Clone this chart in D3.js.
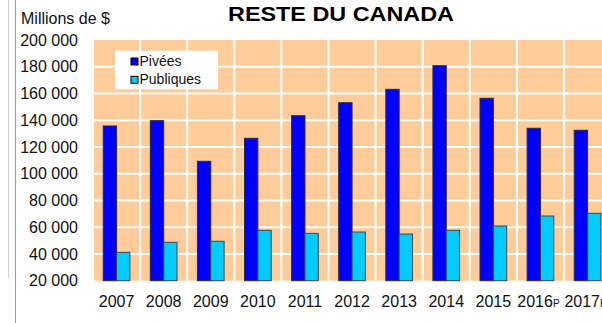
<!DOCTYPE html>
<html>
<head>
<meta charset="utf-8">
<script src="https://cdn.jsdelivr.net/npm/d3@7"></script>
<style>
  html, body { margin: 0; padding: 0; background: #fff; }
  svg { display: block; font-family: "Liberation Sans", Arial, sans-serif; }
</style>
</head>
<body>
<svg id="chart" width="602" height="323"></svg>
<script>
// Investissements non résidentiels, reste du Canada (millions de $)
const years = ["2007", "2008", "2009", "2010", "2011", "2012", "2013", "2014", "2015", "2016", "2017"];
const yearSuffix = ["", "", "", "", "", "", "", "", "", "P", "P"];
const privees = [135700, 139700, 109300, 126500, 143400, 153100, 163100, 180800, 156400, 134000, 132500];
const publiques = [41200, 48700, 49500, 57700, 55400, 56400, 54900, 57700, 60900, 68400, 70400];
const yTicks = [20000, 40000, 60000, 80000, 100000, 120000, 140000, 160000, 180000, 200000];
const seriesNames = ["Pivées", "Publiques"];
const seriesColors = ["#0000FF", "#00CCFF"];

const svg = d3.select("#chart");

// Thin frame lines on the left edge
svg.append("line").attr("x1", 8.5).attr("x2", 8.5).attr("y1", 0).attr("y2", 278)
  .attr("stroke", "#cfcfcf").attr("stroke-width", 1);
svg.append("line").attr("x1", 15.5).attr("x2", 15.5).attr("y1", 0).attr("y2", 323)
  .attr("stroke", "#9a9a9a").attr("stroke-width", 1);

const x = d3.scaleBand().domain(years).range([93, 93 + 47.1 * years.length]).padding(0);
const y = d3.scaleLinear().domain([20000, 200000]).range([280.7, 40]);

// Plot background
svg.append("rect")
  .attr("x", 94).attr("y", y(200000))
  .attr("width", 602 - 94).attr("height", y(20000) - y(200000))
  .attr("fill", "#FFCC99");

// White grid: horizontal at each tick, vertical between categories
svg.append("g").selectAll("line").data(yTicks.slice(1, -1)).join("line")
  .attr("x1", 94).attr("x2", 602)
  .attr("y1", d => y(d)).attr("y2", d => y(d))
  .attr("stroke", "#fff").attr("stroke-width", 2);
svg.append("g").selectAll("line").data(years.slice(1)).join("line")
  .attr("x1", d => x(d)).attr("x2", d => x(d))
  .attr("y1", y(200000)).attr("y2", y(20000))
  .attr("stroke", "#fff").attr("stroke-width", 2);

// Bars
const bw = x.bandwidth() * 0.283;
const bars = svg.append("g");
bars.selectAll("rect.priv").data(years).join("rect")
  .attr("class", "priv")
  .attr("x", d => x(d) + x.bandwidth() / 2 - bw)
  .attr("y", (d, i) => y(privees[i]))
  .attr("width", bw)
  .attr("height", (d, i) => y(20000) - y(privees[i]))
  .attr("fill", seriesColors[0]).attr("stroke", "#2a2a40").attr("stroke-width", 1);
bars.selectAll("rect.pub").data(years).join("rect")
  .attr("class", "pub")
  .attr("x", d => x(d) + x.bandwidth() / 2)
  .attr("y", (d, i) => y(publiques[i]))
  .attr("width", bw)
  .attr("height", (d, i) => y(20000) - y(publiques[i]))
  .attr("fill", seriesColors[1]).attr("stroke", "#3a4448").attr("stroke-width", 1);

// Y axis labels (no axis line)
const yAxis = svg.append("g").attr("transform", "translate(78,0)")
  .call(d3.axisLeft(y).tickValues(yTicks).tickSize(0).tickPadding(0)
    .tickFormat(d => d3.format(",")(d).replace(/,/g, " ")));
yAxis.select(".domain").remove();
yAxis.selectAll("text").attr("font-size", 16).attr("fill", "#111")
  .attr("font-family", "'Liberation Sans', Arial, sans-serif");

// X axis labels
const xAxis = svg.append("g").attr("transform", `translate(0,${y(20000)})`)
  .call(d3.axisBottom(x).tickSize(0).tickPadding(0).tickFormat(""));
xAxis.select(".domain").remove();
xAxis.selectAll(".tick").each(function(d, i) {
  const t = d3.select(this).append("text")
    .attr("y", 26).attr("fill", "#111").attr("font-size", 16)
    .attr("text-anchor", "middle")
    .attr("font-family", "'Liberation Sans', Arial, sans-serif");
  t.append("tspan").text(d);
  if (yearSuffix[i]) t.append("tspan").attr("font-size", 10).text(yearSuffix[i]);
  if (yearSuffix[i]) t.attr("x", -2);
});

// Unit label and title
svg.append("text").attr("x", 21).attr("y", 24).attr("font-size", 16).attr("fill", "#111")
  .text("Millions de $");
svg.append("text").attr("x", 228).attr("y", 20.7).attr("font-size", 21)
  .attr("font-weight", "bold").attr("fill", "#000")
  .attr("textLength", 226).attr("lengthAdjust", "spacingAndGlyphs")
  .text("RESTE DU CANADA");

// Legend
const legend = svg.append("g");
legend.append("rect").attr("x", 115).attr("y", 50.7).attr("width", 103).attr("height", 38.6)
  .attr("fill", "#fff");
seriesNames.forEach((name, i) => {
  const yy = 58 + i * 18.3;
  legend.append("rect").attr("x", 131).attr("y", yy).attr("width", 7).attr("height", 7)
    .attr("fill", seriesColors[i]).attr("stroke", "#000").attr("stroke-width", 1);
  legend.append("text").attr("x", 139.5).attr("y", yy + 7.8).attr("font-size", 14)
    .attr("fill", "#111").text(name);
});
</script>
</body>
</html>
